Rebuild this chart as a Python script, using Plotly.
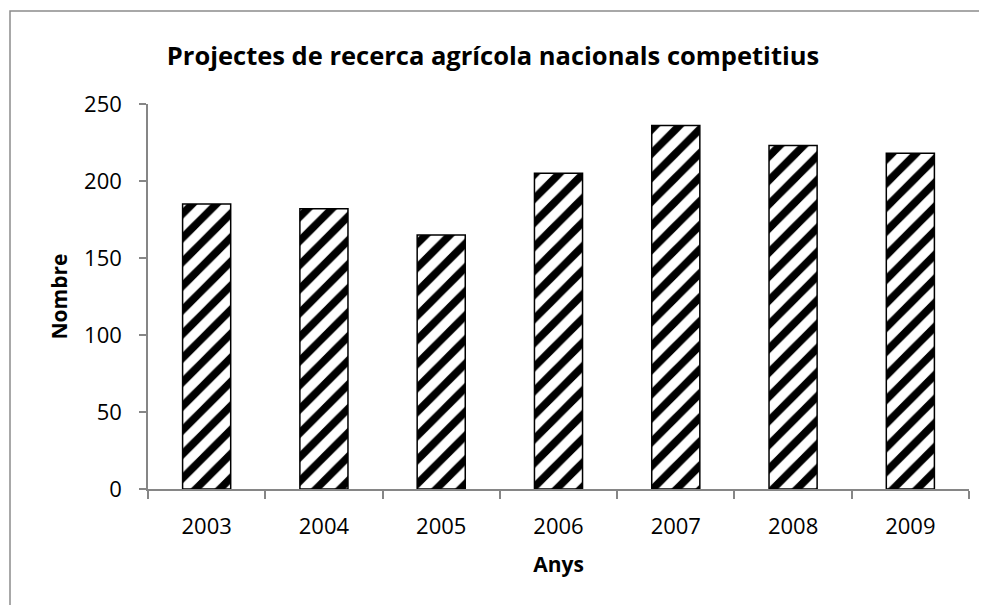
import plotly.graph_objects as go

years = ["2003", "2004", "2005", "2006", "2007", "2008", "2009"]
values = [185, 182, 165, 205, 236, 223, 218]
y_ticks = [0, 50, 100, 150, 200, 250]

title_text = "Projectes de recerca agrícola nacionals competitius"
x_title = "Anys"
y_title = "Nombre"

FONT = "Open Sans"
GRAY = "#868686"

# the page body adds an 8px margin, so the figure is offset by it
OFF = 8
W, H = 987 - OFF, 605 - OFF
L, T = 148 - OFF, 104 - OFF
PW, PH = 821, 385

fig = go.Figure(
    go.Bar(
        x=years,
        y=values,
        width=0.41,
        marker=dict(
            color="white",
            line=dict(color="black", width=1.5),
            pattern=dict(shape="/", fgcolor="black", bgcolor="white", fgopacity=1,
                         size=17, solidity=0.45, fillmode="replace"),
        ),
        showlegend=False,
    )
)

fig.update_layout(
    width=W,
    height=H,
    margin=dict(l=L, r=W - L - PW, t=T, b=H - T - PH, pad=0),
    paper_bgcolor="white",
    plot_bgcolor="white",
    font=dict(family=FONT, size=22, color="black"),
    title=dict(
        text="<b>" + title_text + "</b>",
        x=(493 - OFF) / W, xref="container", xanchor="center",
        y=1 - (56 - OFF) / H, yref="container", yanchor="middle",
        font=dict(family=FONT, size=25.5, color="black"),
    ),
    xaxis=dict(
        type="category",
        showline=True, linecolor=GRAY, linewidth=1.5,
        ticks="outside", tickson="boundaries", ticklen=8, tickcolor=GRAY, tickwidth=1.5,
        showgrid=False,
        tickfont=dict(family=FONT, size=22),
        ticklabelstandoff=17,
        title=dict(text="<b>" + x_title + "</b>", font=dict(family=FONT, size=21), standoff=18),
    ),
    yaxis=dict(
        range=[0, 250],
        tickvals=y_ticks,
        showline=True, linecolor=GRAY, linewidth=1.5,
        ticks="outside", ticklen=7, tickcolor=GRAY, tickwidth=1.5,
        showgrid=False, zeroline=False,
        tickfont=dict(family=FONT, size=22),
        ticklabelstandoff=13,
        title=dict(text="<b>" + y_title + "</b>", font=dict(family=FONT, size=21), standoff=11),
    ),
    shapes=[
        dict(
            type="rect", xref="paper", yref="paper",
            x0=(10 - 148) / PW, x1=(1000 - 148) / PW,
            y0=(489 - 620) / PH, y1=(489 - 11) / PH,
            line=dict(color="#8c8c8c", width=1.5),
            fillcolor="rgba(0,0,0,0)",
            layer="below",
        )
    ],
)

fig.write_html("out.html")
